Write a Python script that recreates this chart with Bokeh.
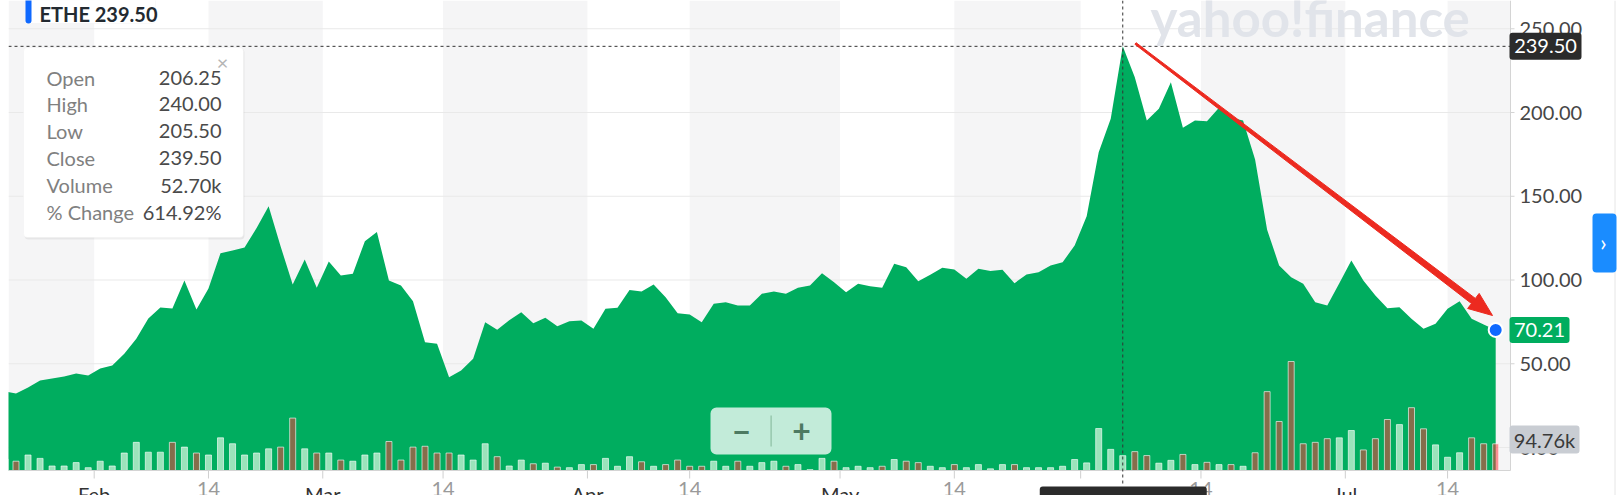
import numpy as np
import pandas as pd
from bokeh.plotting import figure
from bokeh.models import Range1d, BoxAnnotation, Label, ColumnDataSource
from bokeh.core.properties import value
from bokeh.embed import file_html
from bokeh.resources import INLINE

# ---------------- data ----------------
HOLIDAYS = ["2020-02-17", "2020-04-10", "2020-05-25", "2020-07-03"]
trading_days = [d for d in pd.bdate_range("2020-01-22", "2020-07-20")
                if d.strftime("%Y-%m-%d") not in HOLIDAYS]

close = [33.5,
         32.3, 35.8, 40.0, 41.2, 42.4, 44.2, 43.0, 47.2, 49.0, 56.0,
         65.0, 77.0, 83.6, 83.0, 99.7, 82.4, 95.0, 116.0, 117.6, 119.4,
         131.0, 144.0, 120.0, 97.3, 112.2, 95.3, 111.0, 102.7, 103.7, 123.2,
         128.6, 99.7, 96.7, 87.3, 62.9, 61.9, 42.0, 46.0, 53.0, 74.8,
         70.3, 76.0, 80.8, 74.2, 77.4, 72.4, 75.4, 75.8, 70.9, 82.8,
         83.4, 94.1, 93.1, 97.3, 89.7, 80.2, 79.4, 74.8, 85.8, 86.7,
         84.8, 84.8, 91.8, 93.1, 91.8, 95.3, 96.7, 104.0, 98.7, 92.7,
         97.7, 96.3, 95.3, 109.7, 107.6, 99.3, 103.1, 107.3, 106.3, 100.7,
         106.7, 105.3, 106.1, 98.1, 103.3, 104.7, 108.7, 110.6, 120.6, 138.0,
         176.3, 196.2, 239.5, 221.0, 195.2, 202.2, 218.1, 190.9, 195.2, 194.8,
         202.8, 196.8, 195.2, 172.0, 130.0, 108.7, 101.7, 97.7, 86.7, 84.8,
         98.0, 111.6, 99.7, 90.7, 83.2, 83.8, 76.8, 70.9, 73.9, 82.8,
         87.3, 76.8, 73.4, 70.21]

volume_k = [40,
            33, 55, 43, 16, 16, 28, 10, 33, 16, 62,
            100, 65, 65, 100, 83, 62, 55, 116, 95, 55,
            62, 77, 83, 186, 77, 62, 62, 37, 33, 55,
            62, 103, 37, 83, 86, 62, 62, 55, 37, 95,
            49, 16, 37, 24, 26, 12, 10, 21, 21, 43,
            15, 49, 31, 15, 21, 37, 15, 15, 33, 15,
            33, 15, 28, 33, 15, 21, 3, 43, 33, 10,
            15, 10, 15, 39, 33, 28, 15, 10, 21, 10,
            21, 6, 21, 21, 10, 10, 10, 15, 39, 27,
            149, 75, 52.7, 67, 53, 26, 36, 57, 21, 29,
            21, 21, 15, 63, 280, 174, 387, 95, 100, 113,
            116, 142, 73, 113, 181, 163, 223, 148, 91, 47,
            63, 116, 95, 94.76]

volume_up = [1,
             0, 1, 1, 1, 1, 1, 1, 1, 1, 1,
             1, 1, 1, 0, 1, 0, 1, 1, 1, 1,
             1, 1, 0, 0, 1, 0, 1, 0, 1, 1,
             1, 0, 0, 0, 0, 0, 0, 1, 1, 1,
             0, 1, 1, 0, 1, 0, 1, 1, 0, 1,
             1, 1, 0, 1, 0, 0, 0, 0, 1, 1,
             0, 1, 1, 1, 0, 1, 1, 1, 0, 1,
             1, 1, 0, 1, 0, 0, 1, 1, 0, 1,
             1, 1, 1, 0, 1, 1, 1, 1, 1, 1,
             1, 1, 1, 0, 0, 1, 1, 0, 1, 0,
             1, 0, 1, 0, 0, 0, 0, 0, 0, 0,
             1, 1, 0, 0, 0, 1, 0, 0, 1, 1,
             1, 0, 0, 0]

tick_dates = ["2020-02-01", "2020-02-14", "2020-03-01", "2020-03-14", "2020-04-01", "2020-04-14",
              "2020-05-01", "2020-05-14", "2020-06-01", "2020-06-14", "2020-07-01", "2020-07-14"]
tick_labels = ["Feb", "14", "Mar", "14", "Apr", "14", "May", "14", "Jun", "14", "Jul", "14"]

price_ticks = [0, 50, 100, 150, 200, 250]

symbol = "ETHE"
hover_date = "2020-06-04"
hover_date_label = "6/4/2020"
tooltip_names = ["Open", "High", "Low", "Close", "Volume", "% Change"]
tooltip_values = ["206.25", "240.00", "205.50", "239.50", "52.70k", "614.92%"]
last_volume_label = "94.76k"

# ---------------- layout constants (page px) ----------------
FONT = "Lato"
W, H = 1620, 495
PLOT_L, PLOT_R, PLOT_T, PLOT_B = 8, 1510, 0, 470
X0_PX, PX_PER_IDX = 3.47, 12.03
P0_PX, PX_PER_PRICE = 447.0, 1.675
VOL_PER_PX = 3.55


def px2x(px):
    return (px - X0_PX) / PX_PER_IDX


def py2y(py):
    return (P0_PX - py) / PX_PER_PRICE


def x2px(x):
    return X0_PX + PX_PER_IDX * x


def y2py(y):
    return P0_PX - PX_PER_PRICE * y


X_RANGE = (px2x(PLOT_L), px2x(W))
Y_RANGE = (py2y(H), py2y(0))
VOL_RANGE = (-(H - PLOT_B) * VOL_PER_PX, PLOT_B * VOL_PER_PX)

GREEN = "#00ad5f"
UP_BAR = "#9be3bb"
DOWN_BAR = "#ff333a"

idx = list(range(len(close)))
hover_i = [d.strftime("%Y-%m-%d") for d in trading_days].index(hover_date)


def tick_position(date, label):
    d = pd.Timestamp(date)
    nxt = next(i for i, t in enumerate(trading_days) if t >= d)
    if label != "14":
        return nxt - 0.5
    return nxt if trading_days[nxt] == d else nxt - 0.5


tick_pos = [tick_position(d, l) for d, l in zip(tick_dates, tick_labels)]

# ---------------- figure ----------------
p = figure(width=W, height=H, output_backend="svg", toolbar_location=None,
           x_range=Range1d(*X_RANGE), y_range=Range1d(*Y_RANGE),
           x_axis_location=None, y_axis_location=None,
           min_border_left=PLOT_L, min_border_right=0, min_border_top=0, min_border_bottom=0,
           background_fill_color="white", border_fill_color="white", outline_line_color=None)
p.grid.visible = False
p.extra_y_ranges = {"vol": Range1d(*VOL_RANGE)}

x_left, x_right = px2x(PLOT_L), px2x(PLOT_R)
y_top, y_bottom = py2y(PLOT_T), py2y(PLOT_B)

# alternating half-month bands
edges = [x_left] + tick_pos + [x_right]
band_l = [edges[k] for k in range(0, len(edges) - 1, 2)]
band_r = [edges[k + 1] for k in range(0, len(edges) - 1, 2)]
p.quad(left=band_l, right=band_r, top=y_top, bottom=y_bottom, fill_color="#f5f5f6", line_color=None)

# horizontal grid lines
p.segment(x0=x_left, x1=x_right, y0=price_ticks, y1=price_ticks, line_color="#e9e9e9", line_width=1)

# watermark
p.add_layout(Label(x=px2x(1150), y=py2y(17), text="yahoo!finance", text_font=FONT,
                   text_font_style="bold", text_font_size="51px", text_color="#e1e4ea",
                   text_baseline="alphabetic"))

# price area
src = ColumnDataSource(dict(i=idx, close=close))
p.varea(x="i", y1=y_bottom, y2="close", source=src, fill_color=GREEN)

# volume bars
vsrc = ColumnDataSource(dict(i=idx, vol=volume_k,
                             color=[UP_BAR if u else DOWN_BAR for u in volume_up],
                             alpha=[1.0 if u else 0.52 for u in volume_up]))
p.vbar(x="i", top="vol", bottom=0, width=0.5, y_range_name="vol", source=vsrc,
       fill_color="color", fill_alpha="alpha", line_color="white", line_width=0.9, line_alpha=0.7)

# axis lines and ticks
p.segment(x0=[x_left, x_right], x1=[x_right, x_right], y0=[y_bottom, y_bottom], y1=[y_bottom, y_top],
          line_color="#d4d4d4", line_width=1)
p.segment(x0=tick_pos, x1=tick_pos, y0=y_bottom, y1=py2y(PLOT_B + 8), line_color="#cfcfcf", line_width=1)
p.segment(x0=x_right, x1=px2x(PLOT_R + 4), y0=price_ticks, y1=price_ticks, line_color="#d4d4d4",
          line_width=1)
# outer container border on the far right
p.segment(x0=px2x(1614.5), x1=px2x(1614.5), y0=y_top, y1=py2y(H), line_color="#e6e6e6", line_width=1)

# y tick labels
p.text(x=px2x(PLOT_R + 9), y=price_ticks, text=[f"{v:.2f}" for v in price_ticks],
       text_font=value(FONT), text_font_size="20px", text_color="#464646",
       text_align="left", text_baseline="middle")

# x tick labels
p.text(x=tick_pos, y=py2y(PLOT_B + 11), text=tick_labels, text_font=value(FONT), text_font_size="20px",
       text_color=["#9a9a9a" if l == "14" else "#333333" for l in tick_labels],
       text_align="center", text_baseline="top")

# crosshair
p.segment(x0=x_left, x1=x_right, y0=close[hover_i], y1=close[hover_i], line_color="#333333",
          line_dash="3 3", line_width=1)
p.segment(x0=hover_i, x1=hover_i, y0=y_top, y1=py2y(486), line_color="#333333",
          line_dash="3 3", line_width=1)

# red arrow (annotation) as a tapered polygon
ARROW_FROM = (px2x(1135), py2y(43))
ARROW_TO = (px2x(1492), py2y(315))
S = np.array([x2px(ARROW_FROM[0]), y2py(ARROW_FROM[1])])
T = np.array([x2px(ARROW_TO[0]), y2py(ARROW_TO[1])])
u = (T - S) / np.linalg.norm(T - S)
n = np.array([-u[1], u[0]])
B = T - 24 * u
poly = [S + 1.0 * n, B + 3.2 * n, B + 9.5 * n, T, B - 9.5 * n, B - 3.2 * n, S - 1.0 * n]
p.patch([px2x(q[0]) for q in poly], [py2y(q[1]) for q in poly],
        fill_color="#ec2a20", line_color="#ec2a20", line_width=1)

# last point marker
p.scatter(x=[idx[-1]], y=[close[-1]], size=14, fill_color="#0f69ff",
          line_color="white", line_width=2)


def box(l, r, t, b, color, alpha=1.0, radius=0, line=None):
    p.add_layout(BoxAnnotation(left=px2x(l), right=px2x(r), top=py2y(t), bottom=py2y(b),
                               fill_color=color, fill_alpha=alpha, line_color=line,
                               border_radius=radius))


def label(xp, yp, text, size="20px", color="#333333", align="left", baseline="middle", bold=False):
    p.add_layout(Label(x=px2x(xp), y=py2y(yp), text=text, text_font=FONT, text_font_size=size,
                       text_color=color, text_align=align, text_baseline=baseline,
                       text_font_style="bold" if bold else "normal"))


# zoom control
box(710, 831, 407, 454, "white", 0.76, 6)
box(770, 771.2, 415, 446, "#8cbfa2")
label(741, 430, "\u2212", "32px", "#4d7a62", "center", bold=True)
label(801, 430, "+", "32px", "#4d7a62", "center", bold=True)

# tooltip card
box(24, 244, 48, 239, "#000000", 0.06, 4)
box(23, 243, 47, 237, "white", 1.0, 4, "#ececec")
label(222, 61, "\u00d7", "20px", "#b5b5b5", "center")
for k, (nm, vl) in enumerate(zip(tooltip_names, tooltip_values)):
    yy = 77 + 26.8 * k
    label(46, yy, nm, "20px", "#808080", "left")
    label(221, yy, vl, "20px", "#4a4a4a", "right")

# symbol box top-left
box(25, 155, -6, 23, "white", 1.0, 4, "#ececec")
box(25, 31, -6, 23, "#0f69ff", 1.0, 3)
label(39, 13, f"{symbol}  {close[hover_i]:.2f}", "20px", "#232a31", "left", "alphabetic", bold=True)

# right-side value flags
hy = y2py(close[hover_i])
box(1509, 1581, hy - 13.5, hy + 13.5, "#2b2b2b", 1.0, 3)
label(1545, hy, f"{close[hover_i]:.2f}", "20px", "white", "center")
ly = y2py(close[-1])
box(1509, 1569, ly - 13, ly + 13, GREEN, 1.0, 3)
label(1539, ly, f"{close[-1]:.2f}", "20px", "white", "center")
box(1509, 1579, 425, 453, "#c9cdd3", 1.0, 3)
label(1544, 439, last_volume_label, "20px", "#3a3a3a", "center")

# side button
box(1592, 1616, 213, 272, "#1a8cff", 1.0, 4)
label(1603, 241, "\u203a", "24px", "white", "center")

# hover date flag at bottom, centred on the crosshair
hx = x2px(hover_i)
box(hx - 83, hx + 84, 486, 500, "#2b2b2b", 1.0, 3)
label(hx, 489, hover_date_label, "20px", "white", "center", "top")

open("out.html", "w").write(file_html(p, INLINE))
